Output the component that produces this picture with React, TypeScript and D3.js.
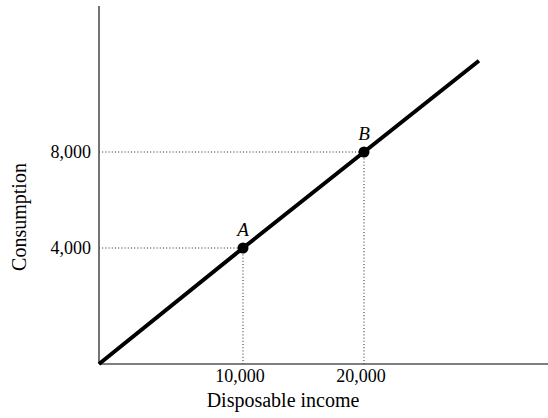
import React from "react";
import * as d3 from "d3";

const incomeTicks = [10000, 20000];
const consumptionTicks = [4000, 8000];
const lineIncome = [0, 10000, 20000, 29500];
const lineConsumption = [0, 4000, 8000, 11800];
const pointLabels = ["A", "B"];
const pointIncome = [10000, 20000];
const pointConsumption = [4000, 8000];

const W = 548;
const H = 418;
const FONT = "'Liberation Serif', 'DejaVu Serif', serif";

export default function App() {
  const x = d3.scaleLinear().domain([0, 10000, 20000]).range([99, 243, 364]);
  const y = d3.scaleLinear().domain([0, 4000, 8000]).range([364, 248, 152]);
  const fmt = d3.format(",");
  const line = d3
    .line<number>()
    .x((_, i) => x(lineIncome[i]))
    .y((d) => y(d));

  return (
    <svg
      width={W}
      height={H}
      style={{ position: "absolute", left: 0, top: 0, background: "#fff" }}
    >
      {pointIncome.map((v, i) => (
        <g key={"g" + i} stroke="#222" strokeWidth={1} strokeDasharray="1,2.2">
          <line x1={x(0)} x2={x(v)} y1={y(pointConsumption[i])} y2={y(pointConsumption[i])} />
          <line x1={x(v)} x2={x(v)} y1={y(pointConsumption[i])} y2={y(0)} />
        </g>
      ))}
      <line x1={x(0)} x2={x(0)} y1={6} y2={y(0)} stroke="#444" strokeWidth={1.5} />
      <line x1={x(0)} x2={W} y1={y(0)} y2={y(0)} stroke="#555" strokeWidth={1.5} />
      <path d={line(lineConsumption) || ""} fill="none" stroke="#000" strokeWidth={4} />
      {pointIncome.map((v, i) => (
        <g key={"p" + i}>
          <circle cx={x(v)} cy={y(pointConsumption[i])} r={5.5} fill="#000" />
          <text
            x={x(v)}
            y={y(pointConsumption[i]) - 12}
            textAnchor="middle"
            fontFamily={FONT}
            fontStyle="italic"
            fontSize={19}
          >
            {pointLabels[i]}
          </text>
        </g>
      ))}
      {incomeTicks.map((v) => (
        <text
          key={"xt" + v}
          x={x(v) - 3}
          y={382}
          textAnchor="middle"
          fontFamily={FONT}
          fontSize={18}
        >
          {fmt(v)}
        </text>
      ))}
      {consumptionTicks.map((v) => (
        <text
          key={"yt" + v}
          x={91}
          y={y(v) + 6}
          textAnchor="end"
          fontFamily={FONT}
          fontSize={18}
        >
          {fmt(v)}
        </text>
      ))}
      <text x={283} y={407} textAnchor="middle" fontFamily={FONT} fontSize={20}>
        Disposable income
      </text>
      <text
        transform="translate(26,217) rotate(-90)"
        textAnchor="middle"
        fontFamily={FONT}
        fontSize={20}
      >
        Consumption
      </text>
    </svg>
  );
}
